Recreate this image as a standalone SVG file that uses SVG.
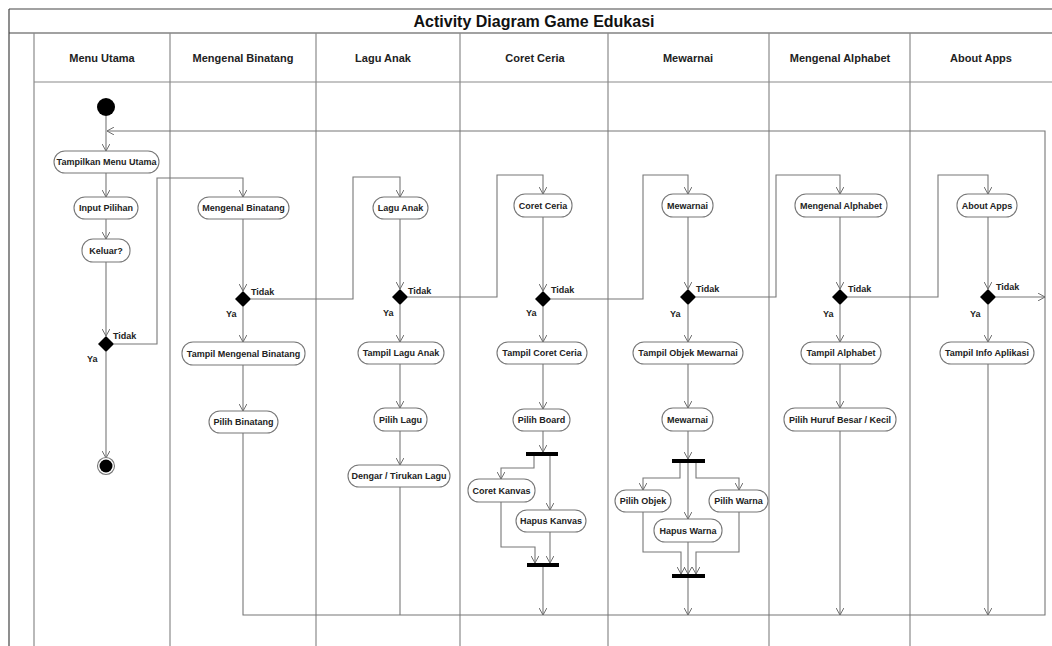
<svg xmlns="http://www.w3.org/2000/svg" width="1052" height="646" viewBox="0 0 1052 646">
<defs>
<marker id="arr" viewBox="0 0 10 10" refX="9" refY="5" markerWidth="8" markerHeight="8" markerUnits="userSpaceOnUse" orient="auto">
<path d="M0,0 L9,5 L0,10" fill="none" stroke="#666" stroke-width="1.2"/>
</marker>
<style>
.frame{stroke:#444;stroke-width:1.2;fill:none}
.lane{stroke:#8a8a8a;stroke-width:1.2;fill:none}
.title{font-family:"Liberation Sans",Arial,sans-serif;font-weight:bold;font-size:16px;fill:#111;text-anchor:middle}
.hdr{font-family:"Liberation Sans",Arial,sans-serif;font-weight:bold;font-size:11px;fill:#222;text-anchor:middle}
.act rect{fill:#fff;stroke:#777;stroke-width:1.1}
.act text,.lbl{font-family:"Liberation Sans",Arial,sans-serif;font-weight:bold;font-size:9px;fill:#222}
.act text{text-anchor:middle}
.dec{fill:#000}
.bar{fill:#000}
.c{fill:none;stroke:#777;stroke-width:1.1}
.ca{fill:none;stroke:#777;stroke-width:1.1;marker-end:url(#arr)}
</style>
</defs>
<rect width="1052" height="646" fill="#fff"/>
<g id="frame">
<line class="frame" x1="9" y1="9" x2="1052" y2="9"/>
<line class="frame" x1="9" y1="33" x2="1052" y2="33"/>
<line class="frame" x1="9" y1="9" x2="9" y2="646"/>
<line class="lane" x1="34" y1="82" x2="1052" y2="82"/>
<line class="lane" x1="34" y1="33" x2="34" y2="646"/>
<line class="lane" x1="170" y1="33" x2="170" y2="646"/>
<line class="lane" x1="316" y1="33" x2="316" y2="646"/>
<line class="lane" x1="460" y1="33" x2="460" y2="646"/>
<line class="lane" x1="608" y1="33" x2="608" y2="646"/>
<line class="lane" x1="769" y1="33" x2="769" y2="646"/>
<line class="lane" x1="910" y1="33" x2="910" y2="646"/>
<text class="title" x="534" y="27">Activity Diagram Game Edukasi</text>
<text class="hdr" x="102" y="62">Menu Utama</text>
<text class="hdr" x="243" y="62">Mengenal Binatang</text>
<text class="hdr" x="383" y="62">Lagu Anak</text>
<text class="hdr" x="535" y="62">Coret Ceria</text>
<text class="hdr" x="688" y="62">Mewarnai</text>
<text class="hdr" x="840" y="62">Mengenal Alphabet</text>
<text class="hdr" x="981" y="62">About Apps</text>
</g>
<g id="connectors">
<path class="ca" d="M106,116 V151"/>
<path class="ca" d="M243,433 V615 H1045 V131 H107"/>
<path class="ca" d="M106,173 V197"/>
<path class="ca" d="M106,219 V239"/>
<path class="ca" d="M106,262 V336"/>
<path class="ca" d="M106,352 V458"/>
<path class="ca" d="M114,344 H157 V178 H243 V197"/>
<path class="ca" d="M243,219 V291"/>
<path class="ca" d="M243,307 V342"/>
<path class="ca" d="M243,365 V411"/>
<path class="ca" d="M251,299 H353 V177 H400 V197"/>
<path class="ca" d="M400,219 V289"/>
<path class="ca" d="M400,305 V342"/>
<path class="ca" d="M400,364 V408"/>
<path class="ca" d="M400,431 V465"/>
<path class="c" d="M400,487 V615"/>
<path class="ca" d="M408,297 H497 V175 H543 V194"/>
<path class="ca" d="M543,217 V291"/>
<path class="ca" d="M543,307 V342"/>
<path class="ca" d="M543,364 V409"/>
<path class="ca" d="M543,431 V452"/>
<path class="ca" d="M534,456 V468 H501 V479"/>
<path class="ca" d="M550,456 V510"/>
<path class="ca" d="M501,502 V547 H535 V563"/>
<path class="ca" d="M550,532 V563"/>
<path class="ca" d="M543,567 V615"/>
<path class="ca" d="M551,299 H643 V175 H688 V194"/>
<path class="ca" d="M688,217 V289"/>
<path class="ca" d="M688,305 V342"/>
<path class="ca" d="M688,364 V408"/>
<path class="ca" d="M688,431 V459"/>
<path class="ca" d="M680,463 V478 H643 V490"/>
<path class="ca" d="M688,463 V519"/>
<path class="ca" d="M696,463 V478 H739 V490"/>
<path class="ca" d="M643,512 V552 H681 V574"/>
<path class="ca" d="M688,542 V574"/>
<path class="ca" d="M739,512 V552 H696 V574"/>
<path class="ca" d="M688,578 V615"/>
<path class="ca" d="M696,297 H776 V175 H840 V194"/>
<path class="ca" d="M840,217 V289"/>
<path class="ca" d="M840,305 V342"/>
<path class="ca" d="M840,364 V408"/>
<path class="ca" d="M840,431 V615"/>
<path class="ca" d="M848,297 H938 V175 H988 V194"/>
<path class="ca" d="M988,217 V289"/>
<path class="ca" d="M988,305 V342"/>
<path class="ca" d="M996,297 H1045"/>
<path class="ca" d="M988,364 V615"/>
<text class="lbl" x="113" y="339">Tidak</text>
<text class="lbl" x="87" y="362">Ya</text>
<text class="lbl" x="251" y="295">Tidak</text>
<text class="lbl" x="226" y="317">Ya</text>
<text class="lbl" x="408" y="294">Tidak</text>
<text class="lbl" x="383" y="316">Ya</text>
<text class="lbl" x="551" y="293">Tidak</text>
<text class="lbl" x="526" y="316">Ya</text>
<text class="lbl" x="696" y="292">Tidak</text>
<text class="lbl" x="670" y="317">Ya</text>
<text class="lbl" x="848" y="292">Tidak</text>
<text class="lbl" x="823" y="317">Ya</text>
<text class="lbl" x="996" y="290">Tidak</text>
<text class="lbl" x="970" y="317">Ya</text>
</g>
<g id="start"><circle cx="106" cy="107" r="9" fill="#000"/></g>
<g id="end"><circle cx="106" cy="466" r="8.5" fill="#fff" stroke="#777" stroke-width="1.1"/><circle cx="106" cy="466" r="6.5" fill="#000"/></g>
<g id="tampilkan-menu" class="act"><rect x="54" y="151" width="105" height="22" rx="11"/><text x="106.5" y="165">Tampilkan Menu Utama</text></g>
<g id="input-pilihan" class="act"><rect x="74" y="197" width="64" height="22" rx="11"/><text x="106" y="211">Input Pilihan</text></g>
<g id="keluar" class="act"><rect x="82" y="239" width="48" height="23" rx="11"/><text x="106" y="253.5">Keluar?</text></g>
<g id="dec-keluar"><polygon class="dec" points="106,336 114,344 106,352 98,344"/></g>
<g id="mengenal-binatang" class="act"><rect x="198" y="197" width="91" height="22" rx="11"/><text x="243.5" y="211">Mengenal Binatang</text></g>
<g id="dec-binatang"><polygon class="dec" points="243,291 251,299 243,307 235,299"/></g>
<g id="tampil-binatang" class="act"><rect x="182" y="342" width="123" height="23" rx="11"/><text x="243.5" y="356.5">Tampil Mengenal Binatang</text></g>
<g id="pilih-binatang" class="act"><rect x="209" y="411" width="69" height="22" rx="11"/><text x="243.5" y="425">Pilih Binatang</text></g>
<g id="lagu-anak" class="act"><rect x="373" y="197" width="55" height="22" rx="11"/><text x="400.5" y="211">Lagu Anak</text></g>
<g id="dec-lagu"><polygon class="dec" points="400,289 408,297 400,305 392,297"/></g>
<g id="tampil-lagu" class="act"><rect x="358" y="342" width="86" height="22" rx="11"/><text x="401" y="356">Tampil Lagu Anak</text></g>
<g id="pilih-lagu" class="act"><rect x="374" y="408" width="53" height="23" rx="11"/><text x="400.5" y="422.5">Pilih Lagu</text></g>
<g id="dengar-lagu" class="act"><rect x="348" y="465" width="102" height="22" rx="11"/><text x="399" y="479">Dengar / Tirukan Lagu</text></g>
<g id="coret-ceria" class="act"><rect x="514" y="194" width="58" height="23" rx="11"/><text x="543" y="208.5">Coret Ceria</text></g>
<g id="dec-coret"><polygon class="dec" points="543,291 551,299 543,307 535,299"/></g>
<g id="tampil-coret" class="act"><rect x="497" y="342" width="90" height="22" rx="11"/><text x="542" y="356">Tampil Coret Ceria</text></g>
<g id="pilih-board" class="act"><rect x="513" y="409" width="57" height="22" rx="11"/><text x="541.5" y="423">Pilih Board</text></g>
<g id="fork-coret"><rect class="bar" x="526" y="452" width="32" height="4"/></g>
<g id="coret-kanvas" class="act"><rect x="468" y="479" width="67" height="23" rx="11"/><text x="501.5" y="493.5">Coret Kanvas</text></g>
<g id="hapus-kanvas" class="act"><rect x="516" y="510" width="70" height="22" rx="11"/><text x="551" y="524">Hapus Kanvas</text></g>
<g id="join-coret"><rect class="bar" x="527" y="563" width="32" height="4"/></g>
<g id="mewarnai" class="act"><rect x="662" y="194" width="51" height="23" rx="11"/><text x="687.5" y="208.5">Mewarnai</text></g>
<g id="dec-mewarnai"><polygon class="dec" points="688,289 696,297 688,305 680,297"/></g>
<g id="tampil-objek" class="act"><rect x="633" y="342" width="110" height="22" rx="11"/><text x="688" y="356">Tampil Objek Mewarnai</text></g>
<g id="mewarnai-2" class="act"><rect x="662" y="408" width="51" height="23" rx="11"/><text x="687.5" y="422.5">Mewarnai</text></g>
<g id="fork-mewarnai"><rect class="bar" x="672" y="459" width="33" height="4"/></g>
<g id="pilih-objek" class="act"><rect x="615" y="490" width="56" height="22" rx="11"/><text x="643" y="504">Pilih Objek</text></g>
<g id="pilih-warna" class="act"><rect x="709" y="490" width="59" height="22" rx="11"/><text x="738.5" y="504">Pilih Warna</text></g>
<g id="hapus-warna" class="act"><rect x="654" y="519" width="68" height="23" rx="11"/><text x="688" y="533.5">Hapus Warna</text></g>
<g id="join-mewarnai"><rect class="bar" x="672" y="574" width="33" height="4"/></g>
<g id="mengenal-alphabet" class="act"><rect x="795" y="194" width="92" height="23" rx="11"/><text x="841" y="208.5">Mengenal Alphabet</text></g>
<g id="dec-alphabet"><polygon class="dec" points="840,289 848,297 840,305 832,297"/></g>
<g id="tampil-alphabet" class="act"><rect x="801" y="342" width="80" height="22" rx="11"/><text x="841" y="356">Tampil Alphabet</text></g>
<g id="pilih-huruf" class="act"><rect x="784" y="408" width="112" height="23" rx="11"/><text x="840" y="422.5">Pilih Huruf Besar / Kecil</text></g>
<g id="about-apps" class="act"><rect x="957" y="194" width="60" height="23" rx="11"/><text x="987" y="208.5">About Apps</text></g>
<g id="dec-about"><polygon class="dec" points="988,289 996,297 988,305 980,297"/></g>
<g id="tampil-info" class="act"><rect x="940" y="342" width="94" height="22" rx="11"/><text x="987" y="356">Tampil Info Aplikasi</text></g>
</svg>
